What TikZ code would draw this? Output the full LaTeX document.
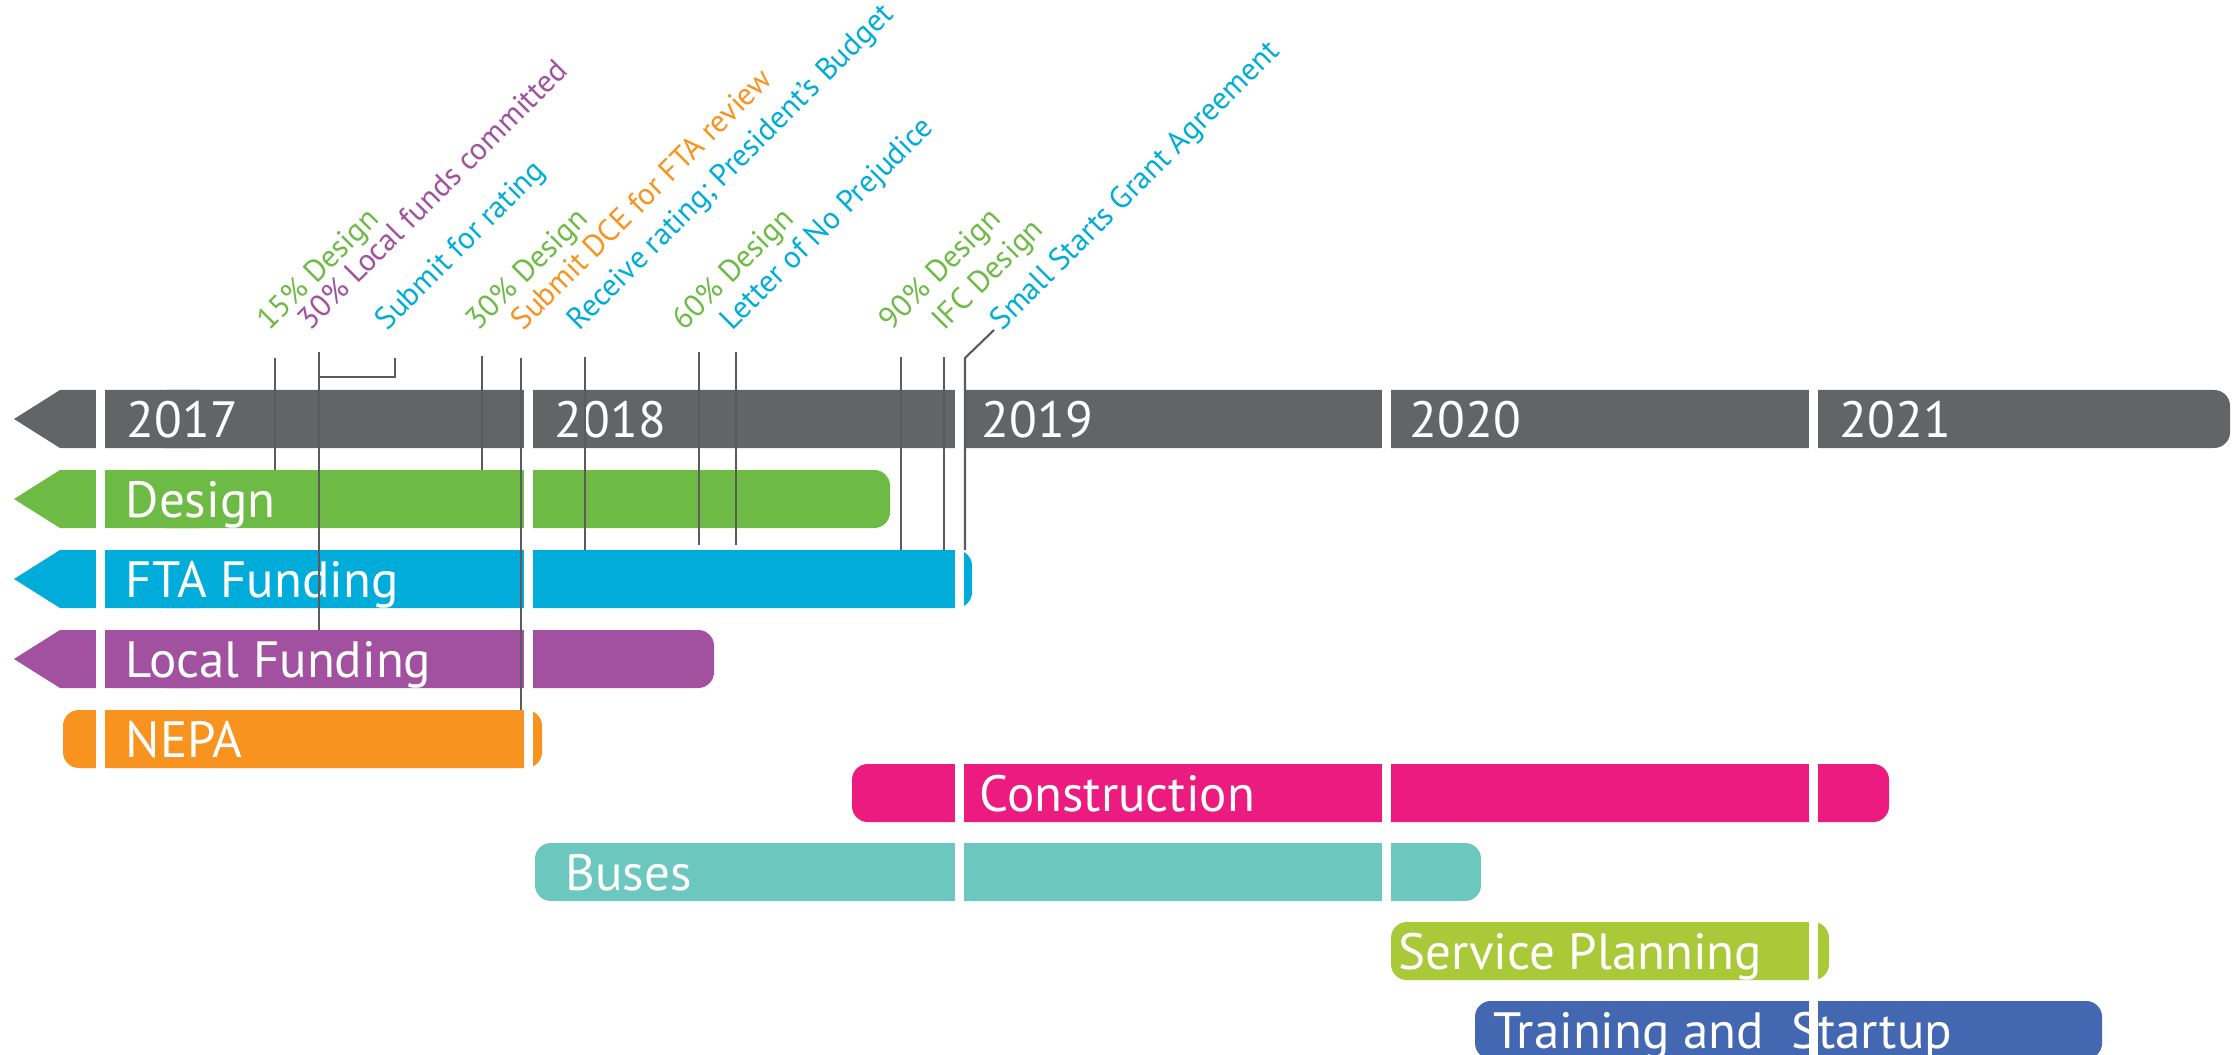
\documentclass[tikz,border=0pt]{standalone}
\usepackage{fontspec}
\setmainfont{PT Sans}
\definecolor{yeargray}{HTML}{636466}
\definecolor{designgreen}{HTML}{6DBB45}
\definecolor{ftablue}{HTML}{00ADDA}
\definecolor{localpurple}{HTML}{A1519F}
\definecolor{nepaorange}{HTML}{F7931E}
\definecolor{constpink}{HTML}{EC1B7F}
\definecolor{busteal}{HTML}{6CC7BE}
\definecolor{servlime}{HTML}{A9C939}
\definecolor{trainblue}{HTML}{4367B1}
\definecolor{tickgray}{HTML}{5A5B5D}
\tikzset{
  barlabel/.style={anchor=base west, inner sep=0pt, text=white, font=\fontsize{14.5}{17}\selectfont},
  milestone/.style={anchor=base west, inner sep=0pt, rotate=45, text=#1, font=\fontsize{8.8}{11}\selectfont},
  tick/.style={draw=tickgray, line width=0.6pt},
  roundend/.style={rounded corners=4.5pt}
}
\begin{document}
\begin{tikzpicture}[x=0.01cm,y=-0.01cm]
  \useasboundingbox (0,0) rectangle (2237,1055);
  \foreach \t/\e/\c in {390/2230/yeargray,470/890/designgreen,550/972/ftablue,630/714/localpurple}{
    \fill[\c] (14,\t+29) -- (60,\t) -- (200,\t) -- (200,\t+58) -- (60,\t+58) -- cycle;
    \fill[\c,roundend] (150,\t) rectangle (\e,\t+58);
  }
  \foreach \t/\s/\e/\c in {710/63/542/nepaorange,764/852/1889/constpink,843/535/1481/busteal,
      922/1391/1829/servlime,1001/1475/2102/trainblue}
    \fill[\c,roundend] (\s,\t) rectangle (\e,\t+58);
  \draw
    (126,437) node[barlabel] (y2017){2017}
    (554,437) node[barlabel] (y2018){2018}
    (981,437) node[barlabel] (y2019){2019}
    (1409,437) node[barlabel] (y2020){2020}
    (1839,437) node[barlabel] (y2021){2021}
    (125,517) node[barlabel] (design){Design}
    (125,597) node[barlabel] (fta){FTA Funding}
    (125,677) node[barlabel] (local){Local Funding}
    (125,757) node[barlabel] (nepa){NEPA}
    (979,811) node[barlabel] (constr){Construction}
    (565,890) node[barlabel] (buses){Buses}
    (1398,969) node[barlabel] (service){Service Planning}
    (1493,1048) node[barlabel] (training){Training and\ \ Startup};
  \foreach \g in {96,524,955,1382,1809}
    \fill[white] (\g,385) rectangle (\g+8.5,1060);
  \draw
    (269,332) node[milestone=designgreen] (d15){15\% Design}
    (310,332) node[milestone=localpurple] (lf30){30\% Local funds committed}
    (387,332) node[milestone=ftablue] (subrate){Submit for rating}
    (478,332) node[milestone=designgreen] (d30){30\% Design}
    (523,332) node[milestone=nepaorange] (subdce){Submit DCE for FTA review}
    (579,332) node[milestone=ftablue] (recrate){Receive rating; President’s Budget}
    (684,332) node[milestone=designgreen] (d60){60\% Design}
    (732,332) node[milestone=ftablue] (lonp){Letter of No Prejudice}
    (891,332) node[milestone=designgreen] (d90){90\% Design}
    (944,332) node[milestone=designgreen] (difc){IFC Design}
    (1002,332) node[milestone=ftablue] (ssga){Small Starts Grant Agreement};
  \begin{scope}[tick]
    \draw (275,358) -- (275,470);
    \draw (319,352) -- (319,630);
    \draw (319,377) -- (395,377) -- (395,358);
    \draw (482,356) -- (482,470);
    \draw (521,358) -- (521,710);
    \draw (585,357) -- (585,550);
    \draw (699,352) -- (699,545);
    \draw (736,352) -- (736,545);
    \draw (901,357) -- (901,550);
    \draw (944,357) -- (944,550);
    \draw (994,330) -- (965,358) -- (965,550);
  \end{scope}
\end{tikzpicture}
\end{document}
